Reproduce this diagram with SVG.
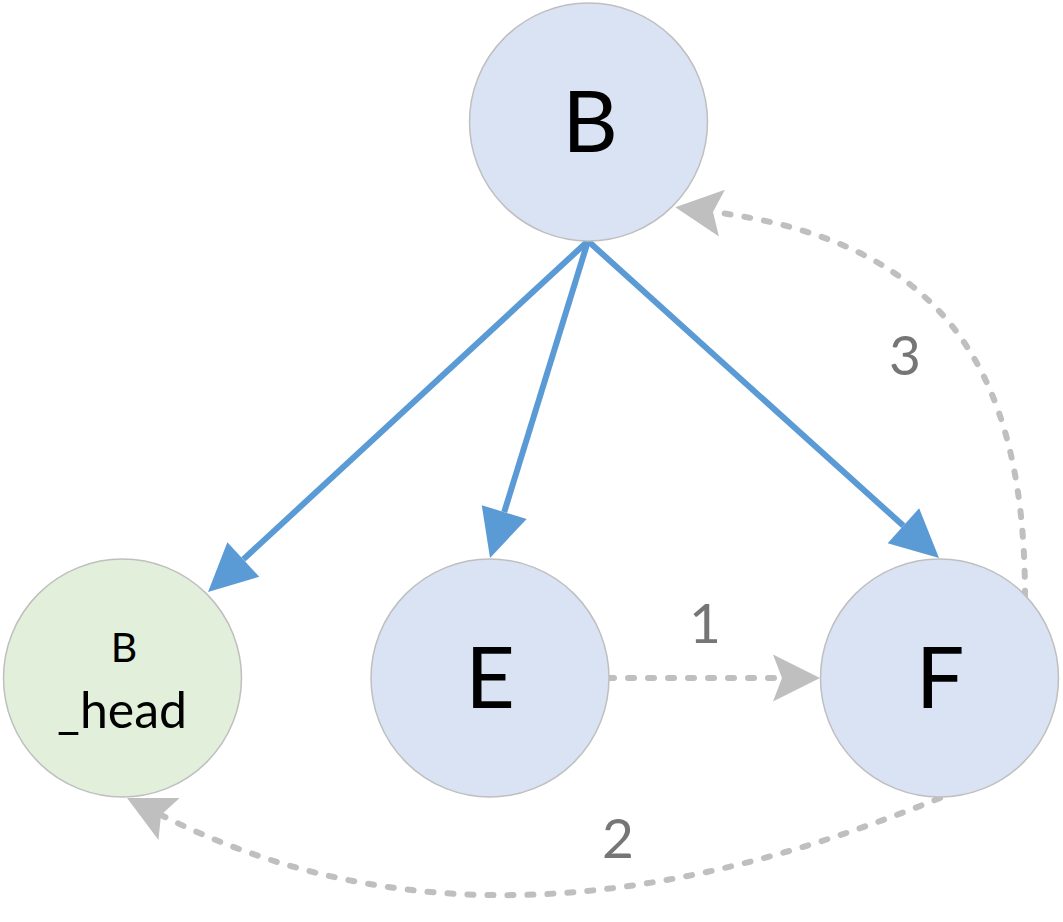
<svg xmlns="http://www.w3.org/2000/svg" width="1063" height="922" viewBox="0 0 1063 922">
  <style>
    .node { stroke: #BFBFBF; stroke-width: 1.5; }
    .blue { fill: #DAE3F3; }
    .green { fill: #E2EFDA; }
    .big { font-family: Lato, "Open Sans", sans-serif; font-size: 86px; fill: #000; text-anchor: middle; }
    .small { font-family: Lato, "Open Sans", sans-serif; fill: #000; text-anchor: middle; }
    .solid { fill: none; stroke: #5B9BD5; stroke-width: 6; marker-end: url(#arrowSolid); }
    .dashed { fill: none; stroke: #BFBFBF; stroke-width: 6; stroke-linecap: round; stroke-dasharray: 6 14; marker-end: url(#arrowDash); }
    .lbl { font-family: Lato, "Open Sans", sans-serif; font-size: 55px; fill: #767676; text-anchor: middle; }
  </style>
  <defs>
    <marker id="arrowSolid" markerUnits="userSpaceOnUse" viewBox="0 -25 50 50" markerWidth="50" markerHeight="50" refX="0" refY="0" orient="auto" overflow="visible">
      <path d="M0,-23.5 L48,0 L0,23.5 Z" fill="#5B9BD5"/>
    </marker>
    <marker id="arrowDash" markerUnits="userSpaceOnUse" viewBox="0 -25 50 50" markerWidth="50" markerHeight="50" refX="9" refY="0" orient="auto" overflow="visible">
      <path d="M0,-23.5 L47,0 L0,23.5 L9,0 Z" fill="#BFBFBF"/>
    </marker>
  </defs>

  <rect width="1063" height="922" fill="#FFFFFF"/>

  <g id="connectors">
    <!-- tree edges from B -->
    <line class="solid" x1="588" y1="241" x2="243.3" y2="559.4"/>
    <line class="solid" x1="588" y1="241" x2="504.2" y2="512.1"/>
    <line class="solid" x1="588" y1="241" x2="903.4" y2="525.8"/>
    <!-- numbered dashed links -->
    <line class="dashed" x1="608" y1="678" x2="782" y2="678"/>
    <path class="dashed" d="M940,798 C682,903 415,943 161,815"/>
    <path class="dashed" d="M1025,597 C1025,367 941,241 713,212"/>
    <text class="lbl" x="705" y="643">1</text>
    <text class="lbl" x="618" y="858">2</text>
    <text class="lbl" x="905" y="375">3</text>
  </g>

  <g id="node-B">
    <circle class="node blue" cx="588.5" cy="122" r="119"/>
    <text class="big" x="590" y="152">B</text>
  </g>
  <g id="node-B_head">
    <circle class="node green" cx="122.5" cy="678" r="119"/>
    <text class="small" x="124" y="662" font-size="41">B</text>
    <text class="small" x="122" y="728" font-size="50">_head</text>
  </g>
  <g id="node-E">
    <circle class="node blue" cx="490" cy="678" r="119"/>
    <text class="big" x="490" y="708">E</text>
  </g>
  <g id="node-F">
    <circle class="node blue" cx="939.5" cy="678" r="119"/>
    <text class="big" x="940" y="708">F</text>
  </g>
</svg>
